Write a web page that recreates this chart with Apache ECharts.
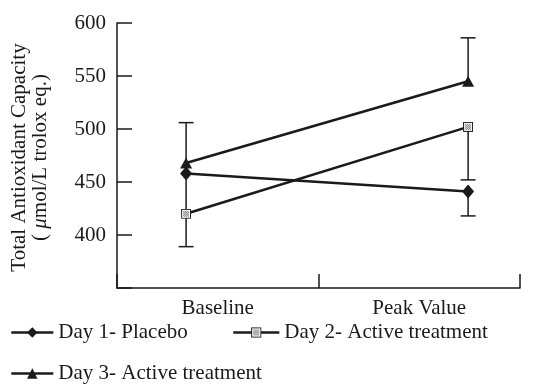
<!DOCTYPE html>
<html>
<head>
<meta charset="utf-8">
<script src="https://cdn.jsdelivr.net/npm/echarts@6/dist/echarts.min.js"></script>
<style>html,body{margin:0;padding:0;background:#fff;}#c{width:537px;height:390px;}</style>
</head>
<body>
<div id="c"></div>
<script>
// ---- data ----
const categories = ['Baseline', 'Peak Value'];
const seriesNames = ['Day 1- Placebo', 'Day 2- Active treatment', 'Day 3- Active treatment'];
const day1 = [458, 441];
const day2 = [420, 502];
const day3 = [468, 545];
// error whisker end points (one-sided), null = none
const day1ErrEnd = [389, 418];
const day2ErrEnd = [null, 452];
const day3ErrEnd = [506, 586];
const yTicks = [400, 450, 500, 550, 600];

const FONT = 'Liberation Serif';
const INK = '#1a1a1a';

const sqSvg = "<svg xmlns='http://www.w3.org/2000/svg' width='10' height='10'>" +
  "<defs><pattern id='p' width='2' height='2' patternUnits='userSpaceOnUse'>" +
  "<rect width='2' height='2' fill='#e8e8e8'/><rect width='1' height='1' fill='#777'/><rect x='1' y='1' width='1' height='1' fill='#777'/></pattern></defs>" +
  "<rect x='0.5' y='0.5' width='9' height='9' fill='white' stroke='#111' stroke-width='1'/>" +
  "<rect x='2' y='2' width='6' height='6' fill='url(#p)'/></svg>";
const sqSymbol = 'image://data:image/svg+xml;charset=utf-8,' + encodeURIComponent(sqSvg);

function pts(vals) { return vals.map((v, i) => [i, v]); }
function errPts(vals, ends) {
  const out = [];
  vals.forEach((v, i) => { if (ends[i] != null) out.push([i, v, ends[i]]); });
  return out;
}
const errData = [].concat(errPts(day1, day1ErrEnd), errPts(day2, day2ErrEnd), errPts(day3, day3ErrEnd));

const chart = echarts.init(document.getElementById('c'), null, {renderer: 'canvas'});
const lineStyle = {color: INK, width: 2.6};
function lineSeries(name, vals, symbol, size) {
  return {
    name: name, type: 'line', xAxisIndex: 1, yAxisIndex: 0,
    data: pts(vals), symbol: symbol, symbolSize: size, showAllSymbol: true,
    lineStyle: lineStyle, itemStyle: {color: INK, borderColor: INK, borderWidth: 0},
    z: 5, animation: false
  };
}
function legendAt(name, left, top, itemWidth) {
  return {
    data: [name], left: left, top: top, orient: 'horizontal',
    itemWidth: itemWidth, itemHeight: 13, itemGap: 0,
    lineStyle: {width: 2.6, color: INK},
    textStyle: {fontFamily: FONT, fontSize: 21, color: INK},
    padding: 0, selectedMode: false
  };
}
const option = {
  backgroundColor: '#fff',
  animation: false,
  grid: {left: 117, right: 17, top: 23, bottom: 102},
  legend: [
    legendAt(seriesNames[0], 10, 322, 42),
    legendAt(seriesNames[1], 232, 322, 46),
    legendAt(seriesNames[2], 10, 363, 42)
  ],
  xAxis: [
    {
      type: 'category', data: categories, boundaryGap: true, position: 'bottom',
      axisLine: {show: true, onZero: false, lineStyle: {color: INK, width: 1.5}},
      axisTick: {show: true, interval: 0, alignWithLabel: false, inside: true, length: 14, lineStyle: {color: INK, width: 1.5}},
      axisLabel: {fontFamily: FONT, fontSize: 21, color: INK, margin: 10},
      splitLine: {show: false}
    },
    {
      type: 'value', min: -0.245, max: 1.184, show: false, position: 'bottom',
      axisLine: {onZero: false}
    }
  ],
  yAxis: [{
    type: 'value', min: 350, max: 600, interval: 50,
    axisLine: {show: true, onZero: false, lineStyle: {color: INK, width: 1.5}},
    axisTick: {show: true, inside: true, length: 15, lineStyle: {color: INK, width: 1.5}},
    axisLabel: {fontFamily: FONT, fontSize: 21, color: INK, margin: 11,
      formatter: v => (yTicks.indexOf(v) >= 0 ? String(v) : '')},
    splitLine: {show: false},
    name: '{n|Total Antioxidant Capacity}\n{n|( }{i|μ}{n|mol/L trolox eq.)}',
    nameLocation: 'middle', nameRotate: 90, nameGap: 66,
    nameTextStyle: {
      fontFamily: FONT, fontSize: 21, color: INK, lineHeight: 21, padding: [0, 4, 0, 0],
      rich: {
        n: {fontFamily: FONT, fontSize: 21, color: INK, lineHeight: 21},
        i: {fontFamily: FONT, fontSize: 21, color: INK, fontStyle: 'italic', lineHeight: 21}
      }
    }
  }],
  series: [
    {
      type: 'custom', xAxisIndex: 1, yAxisIndex: 0, z: 2, silent: true,
      data: errData,
      renderItem: function (params, api) {
        const p0 = api.coord([api.value(0), api.value(1)]);
        const p1 = api.coord([api.value(0), api.value(2)]);
        const half = 7.5;
        const st = {stroke: INK, lineWidth: 1.5};
        return {
          type: 'group',
          children: [
            {type: 'line', shape: {x1: p0[0], y1: p0[1], x2: p1[0], y2: p1[1]}, style: st},
            {type: 'line', shape: {x1: p1[0] - half, y1: p1[1], x2: p1[0] + half, y2: p1[1]}, style: st}
          ]
        };
      },
      animation: false
    },
    lineSeries(seriesNames[0], day1, 'diamond', [12, 14]),
    lineSeries(seriesNames[1], day2, sqSymbol, [10, 10]),
    lineSeries(seriesNames[2], day3, 'triangle', [12, 11])
  ]
};
chart.setOption(option);
</script>
</body>
</html>
